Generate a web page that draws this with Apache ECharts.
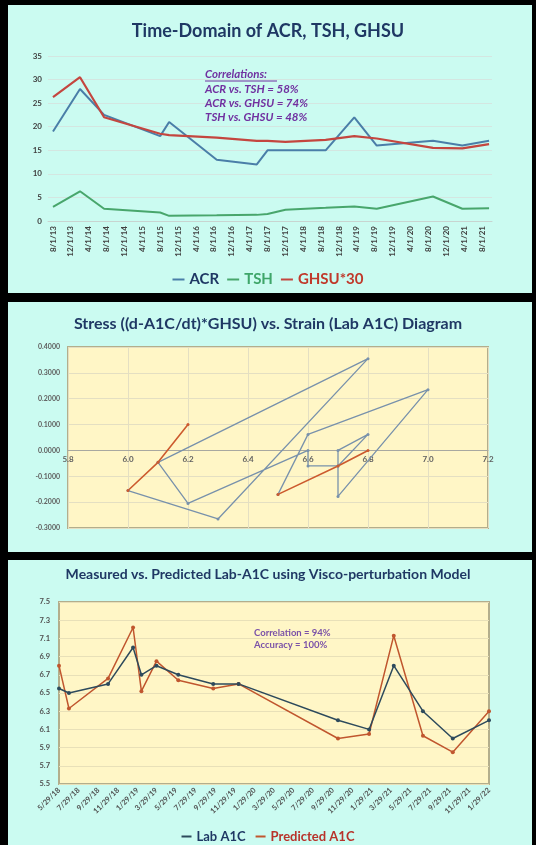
<!DOCTYPE html>
<html>
<head>
<meta charset="utf-8">
<script src="https://cdn.jsdelivr.net/npm/echarts@6/dist/echarts.min.js"></script>
<style>
  html, body { margin: 0; padding: 0; background: #000; }
  #main { width: 536px; height: 845px; }
</style>
</head>
<body>
<div id="main"></div>
<script>
// ---- panel 1: time domain of ACR, TSH, GHSU ----
const tdTicks = ['8/1/13', '12/1/13', '4/1/14', '8/1/14', '12/1/14', '4/1/15', '8/1/15', '12/1/15',
  '4/1/16', '8/1/16', '12/1/16', '4/1/17', '8/1/17', '12/1/17', '4/1/18', '8/1/18', '12/1/18',
  '4/1/19', '8/1/19', '12/1/19', '4/1/20', '8/1/20', '12/1/20', '4/1/21', '8/1/21'];
const tdDates = ['8/1/13', '2/1/14', '7/15/14', '8/1/15', '10/1/15', '8/20/16', '5/20/17', '8/1/17',
  '12/1/17', '9/1/18', '3/15/19', '8/15/19', '9/1/20', '3/20/21', '9/18/21'];
const acr = [19, 28, 22.5, 18, 21, 13, 12, 15, 15, 15, 22, 16, 17, 16, 17];
const tsh = [3, 6.3, 2.6, 1.8, 1.1, 1.2, 1.3, 1.5, 2.4, 2.8, 3.1, 2.6, 5.2, 2.6, 2.7];
const ghsu30 = [26.3, 30.5, 22, 18.5, 18.2, 17.7, 17, 17, 16.8, 17.2, 18, 17.5, 15.5, 15.4, 16.3];

// ---- panel 2: stress vs strain ----
const strain = [6.0, 6.3, 6.8, 6.1, 6.2, 6.6, 6.6, 6.7, 6.8, 6.7, 6.7, 7.0, 6.6, 6.5];
const stress = [-0.155, -0.265, 0.355, -0.046, -0.205, 0.0, -0.06, -0.06, 0.062, 0.0, -0.178, 0.235, 0.062, -0.17];
const startStrain = [6.2, 6.1, 6.0];
const startStress = [0.1, -0.046, -0.155];
const endStrain = [6.5, 6.7, 6.8];
const endStress = [-0.17, -0.06, 0.0];

// ---- panel 3: measured vs predicted A1C ----
const a1cTicks = ['5/29/18', '7/29/18', '9/29/18', '11/29/18', '1/29/19', '3/29/19', '5/29/19',
  '7/29/19', '9/29/19', '11/29/19', '1/29/20', '3/29/20', '5/29/20', '7/29/20', '9/29/20',
  '11/29/20', '1/29/21', '3/29/21', '5/29/21', '7/29/21', '9/29/21', '11/29/21', '1/29/22'];
const a1cDates = ['5/29/18', '6/29/18', '10/29/18', '1/15/19', '2/10/19', '3/29/19', '6/5/19',
  '9/22/19', '12/10/19', '10/15/20', '1/20/21', '4/7/21', '7/7/21', '10/8/21', '1/29/22'];
const labA1c = [6.55, 6.5, 6.6, 7.0, 6.7, 6.8, 6.7, 6.6, 6.6, 6.2, 6.1, 6.8, 6.3, 6.0, 6.2];
const predA1c = [6.8, 6.33, 6.66, 7.22, 6.52, 6.85, 6.64, 6.55, 6.6, 6.0, 6.05, 7.13, 6.03, 5.85, 6.3];

function toTime(s) {
  const p = s.split('/').map(Number);
  return new Date(2000 + p[2], p[0] - 1, p[1]).getTime();
}
function fmtDate(v) {
  const d = new Date(v);
  return (d.getMonth() + 1) + '/' + d.getDate() + '/' + String(d.getFullYear()).slice(2);
}
function pairs(xs, ys) { return xs.map((x, i) => [x, ys[i]]); }

const FONT = 'Lato, "Open Sans", sans-serif';
const panelBg = '#cbfbf1';
const navy = '#1f3864';

// stress/strain grid: x axis sits on the zero line, labels just under it
const ssTop = 347, ssHeight = 181, ssMin = -0.3, ssMax = 0.4;
const ssAxisOffset = -ssHeight * (0 - ssMin) / (ssMax - ssMin);

const noteStyle = 'italic bold 11.5px ' + FONT;

const chart = echarts.init(document.getElementById('main'));
chart.setOption({
  backgroundColor: '#000',
  animation: false,
  graphic: [
    { type: 'rect', shape: { x: 8, y: 5, width: 524, height: 288 }, style: { fill: panelBg }, z: -10 },
    { type: 'rect', shape: { x: 8, y: 302, width: 524, height: 250 }, style: { fill: panelBg }, z: -10 },
    { type: 'rect', shape: { x: 8, y: 560, width: 524, height: 285 }, style: { fill: panelBg }, z: -10 },
    // correlations note, panel 1
    { type: 'text', z: 100, style: { x: 205, y: 74, text: 'Correlations:', verticalAlign: 'middle', fill: '#7030a0', font: noteStyle } },
    { type: 'line', z: 100, shape: { x1: 205, y1: 81, x2: 277, y2: 81 }, style: { stroke: '#7030a0', lineWidth: 1 } },
    { type: 'text', z: 100, style: { x: 205, y: 89, text: 'ACR vs. TSH = 58%', verticalAlign: 'middle', fill: '#7030a0', font: noteStyle } },
    { type: 'text', z: 100, style: { x: 205, y: 103, text: 'ACR vs. GHSU = 74%', verticalAlign: 'middle', fill: '#7030a0', font: noteStyle } },
    { type: 'text', z: 100, style: { x: 205, y: 117, text: 'TSH vs. GHSU = 48%', verticalAlign: 'middle', fill: '#7030a0', font: noteStyle } },
    // panel 3 note
    { type: 'text', z: 100, style: { x: 254, y: 633, text: 'Correlation = 94%', verticalAlign: 'middle', fill: '#7b52a8', font: 'bold 9.5px ' + FONT } },
    { type: 'text', z: 100, style: { x: 254, y: 645, text: 'Accuracy = 100%', verticalAlign: 'middle', fill: '#7b52a8', font: 'bold 9.5px ' + FONT } }
  ],
  title: [
    { text: 'Time-Domain of ACR, TSH, GHSU', left: 'center', top: 17,
      textStyle: { color: navy, fontSize: 18, fontWeight: 'bold', fontFamily: FONT } },
    { text: 'Stress ((d-A1C/dt)*GHSU) vs. Strain (Lab A1C) Diagram', left: 'center', top: 311,
      textStyle: { color: navy, fontSize: 16, fontWeight: 'bold', fontFamily: FONT } },
    { text: 'Measured vs. Predicted Lab-A1C using Visco-perturbation Model', left: 'center', top: 562,
      textStyle: { color: navy, fontSize: 14, fontWeight: 'bold', fontFamily: FONT } }
  ],
  legend: [
    { left: 'center', top: 267, itemWidth: 12, itemHeight: 2, itemGap: 8, icon: 'rect',
      textStyle: { fontSize: 15, fontWeight: 'bold', fontFamily: FONT },
      data: [
        { name: 'ACR', textStyle: { color: navy } },
        { name: 'TSH', textStyle: { color: '#3fa66a' } },
        { name: 'GHSU*30', textStyle: { color: '#c0392b' } }
      ] },
    { left: 'center', top: 825, itemWidth: 10, itemHeight: 2, itemGap: 10, icon: 'rect',
      textStyle: { fontSize: 13, fontWeight: 'bold', fontFamily: FONT },
      data: [
        { name: 'Lab A1C', textStyle: { color: navy } },
        { name: 'Predicted A1C', textStyle: { color: '#b8322a' } }
      ] }
  ],
  grid: [
    { left: 48, right: 44, top: 56, bottom: 624 },
    { left: 68, right: 48, top: ssTop, height: ssHeight, show: true, backgroundColor: '#fff6c6',
      borderColor: '#b3ae8c', borderWidth: 2 },
    { left: 59, right: 47, top: 602, bottom: 61, show: true, backgroundColor: '#fff6c6',
      borderColor: '#b3ae8c', borderWidth: 2 }
  ],
  xAxis: [
    { type: 'value', gridIndex: 0, min: toTime('6/28/13'), max: toTime('10/8/21'),
      axisLine: { lineStyle: { color: '#c8d4d0' } }, axisTick: { show: false },
      splitLine: { show: false },
      axisLabel: { customValues: tdTicks.map(toTime), rotate: 90, fontSize: 8, fontWeight: 'bold',
        color: '#404040', fontFamily: FONT, margin: 5, formatter: fmtDate } },
    { type: 'value', gridIndex: 1, min: 5.8, max: 7.2, interval: 0.2, offset: ssAxisOffset,
      axisLine: { onZero: false, lineStyle: { color: '#a8a8a0' } }, axisTick: { show: false },
      splitLine: { lineStyle: { color: '#e4dfc2' } },
      axisLabel: { fontSize: 8, fontWeight: 'bold', color: '#606060', fontFamily: FONT, margin: 5,
        formatter: v => v.toFixed(1) } },
    { type: 'value', gridIndex: 2, min: toTime('5/29/18'), max: toTime('1/29/22'),
      axisLine: { show: false }, axisTick: { show: false }, splitLine: { show: false },
      axisLabel: { customValues: a1cTicks.map(toTime), rotate: 45, fontSize: 7.5, fontWeight: 'bold',
        color: '#505050', fontFamily: FONT, margin: 5, formatter: fmtDate } }
  ],
  yAxis: [
    { type: 'value', gridIndex: 0, min: 0, max: 35, interval: 5,
      axisLine: { show: false }, axisTick: { show: false },
      splitLine: { lineStyle: { color: '#d4e6e1' } },
      axisLabel: { fontSize: 8, fontWeight: 'bold', color: '#404040', fontFamily: FONT, margin: 6 } },
    { type: 'value', gridIndex: 1, min: ssMin, max: ssMax, interval: 0.1,
      axisLine: { show: false }, axisTick: { show: false },
      splitLine: { lineStyle: { color: '#e4dfc2' } },
      axisLabel: { fontSize: 7, fontWeight: 'bold', color: '#606060', fontFamily: FONT, margin: 8,
        formatter: v => v.toFixed(4) } },
    { type: 'value', gridIndex: 2, min: 5.5, max: 7.5, interval: 0.2,
      axisLine: { show: false }, axisTick: { show: false },
      splitLine: { lineStyle: { color: '#e8e0b8' } },
      axisLabel: { fontSize: 7.5, fontWeight: 'bold', color: '#505050', fontFamily: FONT, margin: 9,
        formatter: v => v.toFixed(1) } }
  ],
  series: [
    { name: 'ACR', type: 'line', xAxisIndex: 0, yAxisIndex: 0, showSymbol: false, symbol: 'none',
      lineStyle: { width: 2, color: '#4a7ea8' }, itemStyle: { color: '#4a7ea8' },
      data: pairs(tdDates.map(toTime), acr) },
    { name: 'TSH', type: 'line', xAxisIndex: 0, yAxisIndex: 0, showSymbol: false, symbol: 'none',
      lineStyle: { width: 2, color: '#48a66c' }, itemStyle: { color: '#48a66c' },
      data: pairs(tdDates.map(toTime), tsh) },
    { name: 'GHSU*30', type: 'line', xAxisIndex: 0, yAxisIndex: 0, showSymbol: false, symbol: 'none',
      lineStyle: { width: 2.2, color: '#c4463f' }, itemStyle: { color: '#c4463f' },
      data: pairs(tdDates.map(toTime), ghsu30) },

    { name: 'path', type: 'line', xAxisIndex: 1, yAxisIndex: 1, symbol: 'circle', symbolSize: 3,
      lineStyle: { width: 1.3, color: '#7891ab' }, itemStyle: { color: '#7891ab' },
      data: pairs(strain, stress) },
    { name: 'start', type: 'line', xAxisIndex: 1, yAxisIndex: 1, symbol: 'circle', symbolSize: 3,
      lineStyle: { width: 1.6, color: '#cc5a2e' }, itemStyle: { color: '#cc5a2e' },
      data: pairs(startStrain, startStress) },
    { name: 'end', type: 'line', xAxisIndex: 1, yAxisIndex: 1, symbol: 'circle', symbolSize: 3,
      lineStyle: { width: 1.6, color: '#cc5a2e' }, itemStyle: { color: '#cc5a2e' },
      data: pairs(endStrain, endStress) },

    { name: 'Predicted A1C', type: 'line', xAxisIndex: 2, yAxisIndex: 2, symbol: 'circle', symbolSize: 4,
      lineStyle: { width: 1.5, color: '#c0562e' }, itemStyle: { color: '#c0562e' },
      data: pairs(a1cDates.map(toTime), predA1c) },
    { name: 'Lab A1C', type: 'line', xAxisIndex: 2, yAxisIndex: 2, symbol: 'circle', symbolSize: 4,
      lineStyle: { width: 1.5, color: '#2d4a5c' }, itemStyle: { color: '#2d4a5c' },
      data: pairs(a1cDates.map(toTime), labA1c) }
  ]
});
</script>
</body>
</html>
